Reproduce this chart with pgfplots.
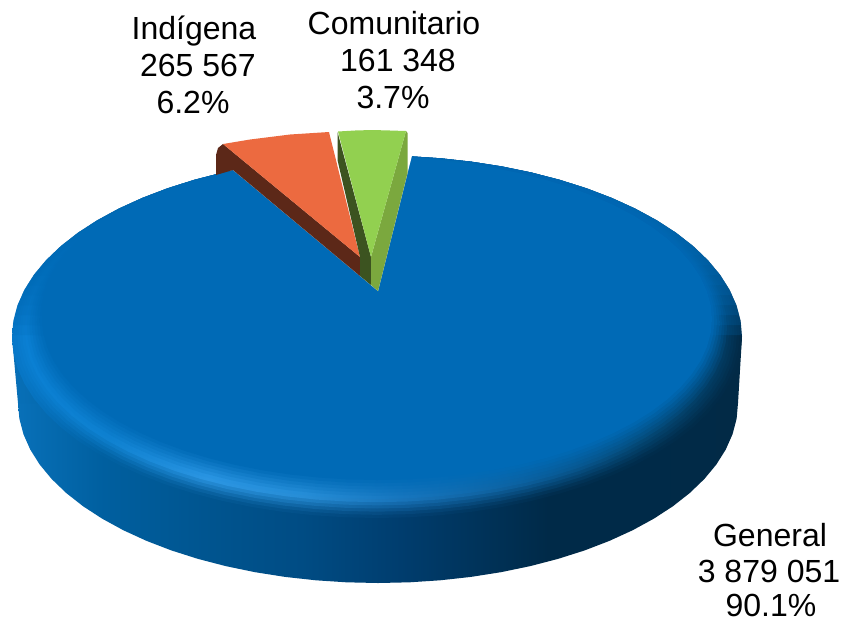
\documentclass[border=0pt]{standalone}
\usepackage{pgfplots}
\usepackage{pgfplotstable}
\usepackage{fontspec}
\setmainfont{Liberation Sans}
\pgfplotsset{compat=1.18}
\definecolor{base}{HTML}{006AB6}
\definecolor{SideL}{HTML}{0870B8}
\definecolor{Oa}{HTML}{0878C8}\definecolor{Ob}{HTML}{005F9F}\definecolor{Oc}{HTML}{005590}\definecolor{Od}{HTML}{004C84}
\definecolor{Oe}{HTML}{003D6E}\definecolor{Of}{HTML}{002A48}\definecolor{Og}{HTML}{002A48}\definecolor{Oh}{HTML}{022A46}
\definecolor{Ha}{HTML}{0A80D4}\definecolor{Hb}{HTML}{1084D4}\definecolor{Hc}{HTML}{2E9AE8}\definecolor{Hd}{HTML}{2A92DC}
\definecolor{He}{HTML}{1A78C0}\definecolor{Hf}{HTML}{0A5C98}\definecolor{Hg}{HTML}{044A78}\definecolor{Hh}{HTML}{023A60}
\colorlet{Ba}{base}\colorlet{Bb}{base}\colorlet{Bc}{base}\colorlet{Bd}{base}\colorlet{Be}{base}\colorlet{Bf}{base}\colorlet{Bg}{base}\colorlet{Bh}{base}
\newcommand\mk[4]{\pgfdeclarehorizontalshading{#1}{100bp}{color(0bp)=(#3a!#2!#4a);color(25bp)=(#3a!#2!#4a);color(31bp)=(#3b!#2!#4b);color(37.9bp)=(#3c!#2!#4c);color(44.7bp)=(#3d!#2!#4d);color(51.6bp)=(#3e!#2!#4e);color(61.8bp)=(#3f!#2!#4f);color(68.7bp)=(#3g!#2!#4g);color(75bp)=(#3h!#2!#4h);color(100bp)=(#3h!#2!#4h)}}
\pgfdeclarehorizontalshading{side}{100bp}{color(0bp)=(SideL);color(25bp)=(SideL);color(31bp)=(Ob);color(37.9bp)=(Oc);color(44.7bp)=(Od);color(51.6bp)=(Oe);color(61.8bp)=(Of);color(68.7bp)=(Og);color(75bp)=(Oh);color(100bp)=(Oh)}
\mk{r0}{7}{H}{O}\mk{r1}{19}{H}{O}\mk{r2}{37}{H}{O}\mk{r3}{56}{H}{O}\mk{r4}{74}{H}{O}\mk{r5}{93}{H}{O}
\mk{r6}{86}{H}{B}\mk{r7}{71}{H}{B}\mk{r8}{56}{H}{B}\mk{r9}{41}{H}{B}\mk{r10}{26}{H}{B}\mk{r11}{12}{H}{B}
\pgfplotstableread{
c s
1.0000 0.0000
0.9962 0.0872
0.9848 0.1736
0.9659 0.2588
0.9397 0.3420
0.9063 0.4226
0.8660 0.5000
0.8192 0.5736
0.7660 0.6428
0.7071 0.7071
0.6428 0.7660
0.5736 0.8192
0.5000 0.8660
0.4226 0.9063
0.3420 0.9397
0.2588 0.9659
0.1736 0.9848
0.0872 0.9962
0.0000 1.0000
-0.0872 0.9962
-0.1736 0.9848
-0.2588 0.9659
-0.3420 0.9397
-0.4226 0.9063
-0.5000 0.8660
-0.5736 0.8192
-0.6428 0.7660
-0.7071 0.7071
-0.7660 0.6428
-0.8192 0.5736
-0.8660 0.5000
-0.9063 0.4226
-0.9397 0.3420
-0.9659 0.2588
-0.9848 0.1736
-0.9962 0.0872
-1.0000 0.0000
-0.9962 -0.0872
-0.9848 -0.1736
-0.9659 -0.2588
-0.9397 -0.3420
-0.9063 -0.4226
-0.8660 -0.5000
-0.8192 -0.5736
-0.7660 -0.6428
-0.7071 -0.7071
-0.6428 -0.7660
-0.5736 -0.8192
-0.5000 -0.8660
-0.4226 -0.9063
-0.3420 -0.9397
-0.2588 -0.9659
-0.1736 -0.9848
-0.0872 -0.9962
0.0000 -1.0000
0.0872 -0.9962
0.1736 -0.9848
0.2588 -0.9659
0.3420 -0.9397
0.4226 -0.9063
0.5000 -0.8660
0.5736 -0.8192
0.6428 -0.7660
0.7071 -0.7071
0.7660 -0.6428
0.8192 -0.5736
0.8660 -0.5000
0.9063 -0.4226
0.9397 -0.3420
0.9659 -0.2588
0.9848 -0.1736
0.9962 -0.0872
1.0000 0.0000
}\unitcircle
\newcommand\ring[2]{\addplot[draw=none,shade,shading=#1] table[x expr={377+(365-30*#2)*\thisrow{c}},y expr={(155.5+2.5*#2+518-38*#2)/2+(518-38*#2-155.5-2.5*#2)/2*\thisrow{s}}]{\unitcircle};}
\newcommand\veil[1]{\addplot[draw=none,fill=base,fill opacity=0.2] table[x expr={377+max(min(365*\thisrow{c},365*sqrt(1-((#1-336.75)/181.25)^2)),-365*sqrt(1-((#1-336.75)/181.25)^2))},y expr={min(336.75+181.25*\thisrow{s},#1)}]{\unitcircle};}
\newcommand\lab[3]{\node[anchor=base,inner sep=0pt,font=\fontsize{32}{37}\selectfont] at (axis cs:#1,#2) {#3};}
\begin{document}
\begin{tikzpicture}
\begin{axis}[scale only axis,width=843pt,height=622pt,xmin=0,xmax=843,ymin=0,ymax=622,y dir=reverse,hide axis,clip=true]
\addplot[draw=none,fill=white] coordinates {(0,0)(843,0)(843,622)(0,622)(0,0)};
% side of the General slice
\addplot[draw=none,shade,shading=side] table[x expr={378+360*\thisrow{c}},y expr={403+180*\thisrow{s}}]{\unitcircle};
\addplot[draw=none,shade,shading=side] coordinates {(12,337)(742,337)(738,403)(18,403)(12,337)};
% top face of the General slice, rim to centre
\ring{r0}{0}\ring{r1}{0.083}\ring{r2}{0.167}\ring{r3}{0.25}\ring{r4}{0.333}\ring{r5}{0.417}
\ring{r6}{0.5}\ring{r7}{0.583}\ring{r8}{0.667}\ring{r9}{0.75}\ring{r10}{0.833}\ring{r11}{0.917}
\addplot[draw=none,fill=base] table[x expr={377+335*\thisrow{c}},y expr={319+161*\thisrow{s}}]{\unitcircle};
\veil{335}\veil{325}\veil{315}\veil{305}\veil{295}\veil{285}\veil{275}\veil{265}\veil{255}\veil{245}\veil{235}\veil{225}\veil{215}\veil{205}\veil{195}\veil{185}
% gap of the two pulled slices
\addplot[draw=none,fill=white] coordinates {(378,291)(412,155.5)(412,100)(233,100)(233,170)(378,291)};
% Indigena
\addplot[draw=none,fill={rgb,255:red,92;green,40;blue,24}] coordinates {(216,175)(216,155)(218,148)(223,144)(360,257)(360,276)(233,170)(216,175)};
\addplot[draw=none,fill={rgb,255:red,236;green,106;blue,64}] coordinates {(223,144)(250,139.5)(290,134.5)(329,132)(360,257)(223,144)};
% Comunitario
\addplot[draw=none,fill={rgb,255:red,60;green,83;blue,32}] coordinates {(337.5,132)(337.5,160)(360,257)(360,276)(371,285)(371,257)(337.5,132)};
\addplot[draw=none,fill={rgb,255:red,123;green,168;blue,62}] coordinates {(406,131)(407.5,133)(407.5,173)(378,291)(371,285)(371,257)(406,131)};
\addplot[draw=none,fill={rgb,255:red,146;green,208;blue,80}] coordinates {(338,131.5)(355,130.5)(372,130)(390,130.5)(406,131)(371,257)(338,131.5)};
\lab{194}{39}{Indígena}
\lab{198}{76}{265 567}
\lab{193}{113}{6.2\%}
\lab{394}{34}{Comunitario}
\lab{398}{71}{161 348}
\lab{393}{108}{3.7\%}
\lab{770}{546}{General}
\lab{769}{582}{3 879 051}
\lab{771}{616}{90.1\%}
\end{axis}
\end{tikzpicture}
\end{document}
